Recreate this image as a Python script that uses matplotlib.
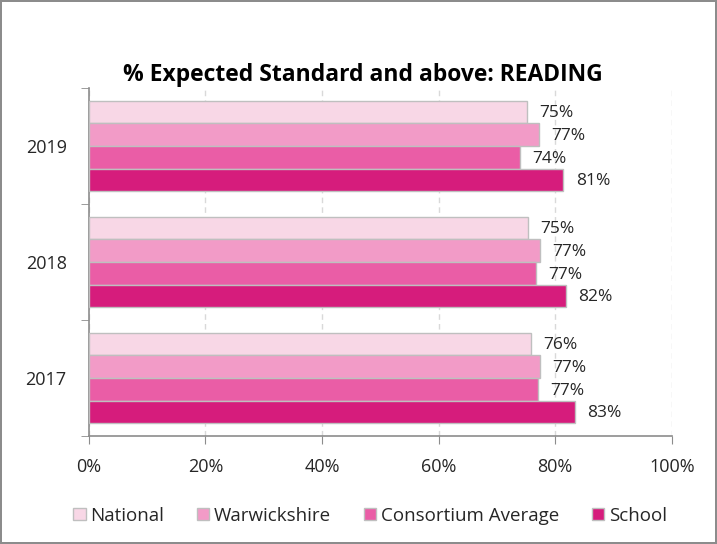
import matplotlib.pyplot as plt
import numpy as np

plt.rcParams['font.family'] = ['Open Sans', 'DejaVu Sans']

# chart data
years = ['2017', '2018', '2019']
series = ['National', 'Warwickshire', 'Consortium Average', 'School']
national = [75.8, 75.4, 75.1]
warwickshire = [77.4, 77.4, 77.2]
consortium = [77.1, 76.7, 73.9]
school = [83.4, 81.8, 81.4]
colors = ['#F8D7E6', '#F29BC7', '#EA5DA6', '#D61C7C']

values = [national, warwickshire, consortium, school]

fig = plt.figure(figsize=(7.17, 5.44), dpi=100)
fig.patch.set_edgecolor('#8c8c8c')
fig.patch.set_linewidth(1.5)
ax = fig.add_axes([0.124, 0.1985, 0.813, 0.6395])

y = np.arange(len(years))
h = 0.195
for i, (name, vals) in enumerate(zip(series, values)):
    # National on top of each group, School at the bottom
    pos = y + (1.5 - i) * h
    ax.barh(pos, vals, height=h, color=colors[i], edgecolor='#bfbfbf',
            linewidth=1, label=name, zorder=3)
    for p, v in zip(pos, vals):
        ax.text(v + 2.1, p - 0.01, '{:.0f}%'.format(v), va='center', ha='left',
                fontsize=12.5, color='#262626', zorder=4)

ax.set_xlim(0, 100)
ax.set_ylim(-0.5, 2.5)
ax.set_xticks([0, 20, 40, 60, 80, 100])
ax.set_xticklabels(['0%', '20%', '40%', '60%', '80%', '100%'])
ax.set_yticks(y)
ax.set_yticklabels(years)
ax.set_yticks([-0.5, 0.5, 1.5, 2.5], minor=True)
ax.tick_params(axis='y', which='major', length=0, pad=16, labelsize=13, labelcolor='#262626')
ax.tick_params(axis='y', which='minor', length=6, color='#8c8c8c')
ax.tick_params(axis='x', length=6, color='#8c8c8c', labelsize=13, pad=10, labelcolor='#262626')
ax.xaxis.grid(True, linestyle=(0, (4, 3)), color='#d9d9d9', linewidth=1, zorder=0)
for s in ['top', 'right']:
    ax.spines[s].set_visible(False)
for s in ['left', 'bottom']:
    ax.spines[s].set_color('#8c8c8c')
    ax.spines[s].set_linewidth(1.2)

fig.text(0.506, 0.862, '% Expected Standard and above: READING', ha='center',
         va='center', fontsize=16.5, fontweight='bold')

leg = fig.legend(loc='center', bbox_to_anchor=(0.516, 0.052), ncol=4, frameon=False,
                 fontsize=13.5, handlelength=0.65, handleheight=0.65, handletextpad=0.25,
                 columnspacing=1.75, labelcolor='#262626')

plt.savefig('out.png', dpi=100)
